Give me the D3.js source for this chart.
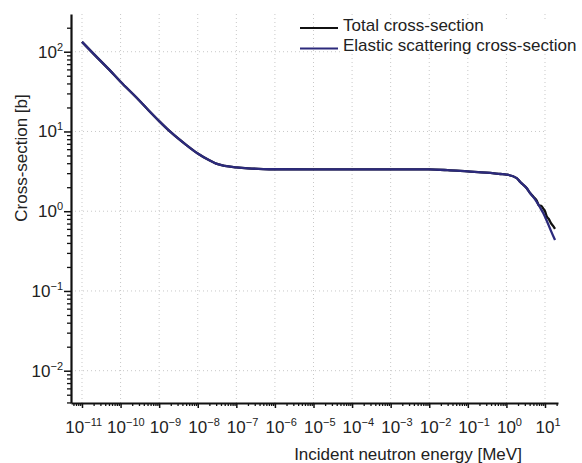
<!DOCTYPE html>
<html>
<head>
<meta charset="utf-8">
<script src="https://cdn.jsdelivr.net/npm/d3@7"></script>
<style>
    body { margin: 0; background: #fff; }
    svg text { font-family: "Liberation Sans", Arial, Helvetica, sans-serif; fill: #222; }
</style>
</head>
<body>
<div id="chart"></div>
<script>
// ---- data ----
// common part: total and elastic overlap up to ~4 MeV
let lowEnergy = [1e-11, 2e-11, 5e-11, 1e-10, 2.5e-10, 5e-10, 1e-9, 2e-9, 5e-9, 1e-8, 2e-8, 3e-8, 5e-8,
    1e-7, 2e-7, 5e-7, 1e-6, 1e-5, 1e-4, 1e-3, 1e-2, 3e-2, 0.1, 0.3, 0.7, 1, 1.85, 2.25, 3.37, 4.1];
let lowValues = [133, 94, 60, 42, 27, 19, 13.5, 9.8, 6.8, 5.3, 4.35, 3.95, 3.7,
    3.55, 3.45, 3.38, 3.36, 3.35, 3.35, 3.35, 3.34, 3.27, 3.15, 3.05, 2.93, 2.88, 2.6, 2.34, 1.94, 1.69];

// high energy part, where the two curves split
let totalEnergy = [5, 6.1, 7, 8, 9, 10, 11.1, 12.5, 14, 16, 18.2];
let totalValues = [1.52, 1.36, 1.18, 1.17, 1.08, 1.0, 0.86, 0.8, 0.72, 0.66, 0.6];
let elasticEnergy = [5, 6.1, 7.4, 9.06, 11.1, 14, 18.2];
let elasticValues = [1.5, 1.31, 1.12, 0.94, 0.76, 0.58, 0.435];

// decades with major ticks
let xTickExps = [-11, -10, -9, -8, -7, -6, -5, -4, -3, -2, -1, 0, 1];
let yTickExps = [-2, -1, 0, 1, 2];

let series = [
    {name: "Total cross-section", color: "#111111",
        energy: lowEnergy.concat(totalEnergy), values: lowValues.concat(totalValues)},
    {name: "Elastic scattering cross-section", color: "#2c2a7c",
        energy: lowEnergy.concat(elasticEnergy), values: lowValues.concat(elasticValues)}
];

// ---- layout ----
let width = 582, height = 463;
let margin = {left: 71, right: 558, top: 14, bottom: 403};

let svg = d3.select("#chart").append("svg")
    .attr("width", width)
    .attr("height", height);

// log scales
let x = d3.scaleLog()
    .domain([Math.pow(10, -11.285), Math.pow(10, 1.337)])
    .range([margin.left, margin.right]);

let y = d3.scaleLog()
    .domain([Math.pow(10, -2.405), Math.pow(10, 2.473)])
    .range([margin.bottom, margin.top]);

let xMajor = xTickExps.map(e => Math.pow(10, e));
let yMajor = yTickExps.map(e => Math.pow(10, e));

// minor ticks 2..9 in every decade inside the domain
function minorTicks(scale) {
    let dom = scale.domain();
    let lo = Math.floor(Math.log10(dom[0])), hi = Math.ceil(Math.log10(dom[1]));
    let out = [];
    for (let e = lo; e <= hi; e++) {
        for (let m = 2; m <= 9; m++) {
            let v = m * Math.pow(10, e);
            if (v >= dom[0] && v <= dom[1]) out.push(v);
        }
    }
    return out;
}

// grid (dotted)
let grid = svg.append("g").attr("class", "grid");
grid.selectAll(".vgrid")
    .data(xMajor)
    .join("line")
    .attr("x1", d => x(d)).attr("x2", d => x(d))
    .attr("y1", margin.top).attr("y2", margin.bottom)
    .attr("stroke", "#c8c8c8")
    .attr("stroke-width", 1)
    .attr("stroke-dasharray", "1,3");

grid.selectAll(".hgrid")
    .data(yMajor)
    .join("line")
    .attr("x1", margin.left).attr("x2", x(xMajor[xMajor.length - 1]))
    .attr("y1", d => y(d)).attr("y2", d => y(d))
    .attr("stroke", "#c8c8c8")
    .attr("stroke-width", 1)
    .attr("stroke-dasharray", "1,3");

// curves
let line = d3.line()
    .x(d => x(d[0]))
    .y(d => y(d[1]))
    .curve(d3.curveMonotoneX);

svg.append("g")
    .selectAll("path")
    .data(series)
    .join("path")
    .attr("d", s => line(s.energy.map((e, i) => [e, s.values[i]])))
    .attr("fill", "none")
    .attr("stroke", s => s.color)
    .attr("stroke-width", 2.3)
    .attr("stroke-linejoin", "round");

// axes: minor ticks first, then major ticks with domain line
svg.append("g")
    .attr("transform", `translate(0,${margin.bottom})`)
    .call(d3.axisBottom(x).tickValues(minorTicks(x)).tickSize(3).tickFormat("").tickSizeOuter(0))
    .call(g => g.select(".domain").remove())
    .call(g => g.selectAll(".tick line").attr("stroke", "#111").attr("stroke-width", 1.3));

svg.append("g")
    .attr("transform", `translate(0,${margin.bottom})`)
    .call(d3.axisBottom(x).tickValues(xMajor).tickSize(5).tickFormat("").tickSizeOuter(0))
    .call(g => g.select(".domain").attr("stroke", "#111").attr("stroke-width", 2.2))
    .call(g => g.selectAll(".tick line").attr("stroke", "#111").attr("stroke-width", 1.5));

svg.append("g")
    .attr("transform", `translate(${margin.left},0)`)
    .call(d3.axisLeft(y).tickValues(minorTicks(y)).tickSize(4).tickFormat("").tickSizeOuter(0))
    .call(g => g.select(".domain").remove())
    .call(g => g.selectAll(".tick line").attr("stroke", "#111").attr("stroke-width", 1.3));

svg.append("g")
    .attr("transform", `translate(${margin.left},0)`)
    .call(d3.axisLeft(y).tickValues(yMajor).tickSize(7).tickFormat("").tickSizeOuter(0))
    .call(g => g.select(".domain").attr("stroke", "#111").attr("stroke-width", 2.2))
    .call(g => g.selectAll(".tick line").attr("stroke", "#111").attr("stroke-width", 1.5));

// power-of-ten labels "10" + superscript exponent
function expText(e) {
    return e < 0 ? "\u2212" + Math.abs(e) : String(e);
}

let xLabels = svg.append("g").attr("class", "x-labels")
    .selectAll("text")
    .data(xTickExps)
    .join("text")
    .attr("y", 433)
    .attr("font-size", 17);
xLabels.append("tspan").attr("class", "base").text("10");
xLabels.append("tspan").attr("dy", -7).attr("font-size", 11).text(d => expText(d));

// center the "10" on the tick, then push crowded labels to the left
let boxes = [];
xLabels.each(function(d) {
    let w10 = d3.select(this).select(".base").node().getComputedTextLength();
    let w = this.getComputedTextLength();
    boxes.push({node: this, start: x(Math.pow(10, d)) - w10 / 2, w: w});
});
for (let i = boxes.length - 2; i >= 0; i--) {
    let limit = boxes[i + 1].start - 5;
    if (boxes[i].start + boxes[i].w > limit) boxes[i].start = limit - boxes[i].w;
}
boxes.forEach(b => d3.select(b.node).attr("x", b.start));

let yLabels = svg.append("g").attr("class", "y-labels")
    .selectAll("text")
    .data(yTickExps)
    .join("text")
    .attr("x", margin.left - 8)
    .attr("y", d => y(Math.pow(10, d)) + 6)
    .attr("text-anchor", "end")
    .attr("font-size", 17);
yLabels.append("tspan").text("10");
yLabels.append("tspan").attr("dy", -7).attr("font-size", 11).text(d => expText(d));

// axis titles
svg.append("text")
    .attr("x", 408)
    .attr("y", 460)
    .attr("text-anchor", "middle")
    .attr("font-size", 17)
    .text("Incident neutron energy [MeV]");

svg.append("text")
    .attr("transform", "translate(27,158) rotate(-90)")
    .attr("text-anchor", "middle")
    .attr("font-size", 17)
    .text("Cross-section [b]");

// legend
let legend = svg.append("g").attr("class", "legend");
legend.append("rect")
    .attr("x", 340).attr("y", 20)
    .attr("width", width - 340).attr("height", 34)
    .attr("fill", "#fff");

let items = legend.selectAll(".item")
    .data(series)
    .join("g")
    .attr("class", "item")
    .attr("transform", (d, i) => `translate(0,${28 + i * 20.5})`);

items.append("line")
    .attr("x1", 300).attr("x2", 338)
    .attr("y1", 0).attr("y2", 0)
    .attr("stroke", d => d.color)
    .attr("stroke-width", 2);

items.append("text")
    .attr("x", 343)
    .attr("y", 2.5)
    .attr("font-size", 17)
    .text(d => d.name);
</script>
</body>
</html>
